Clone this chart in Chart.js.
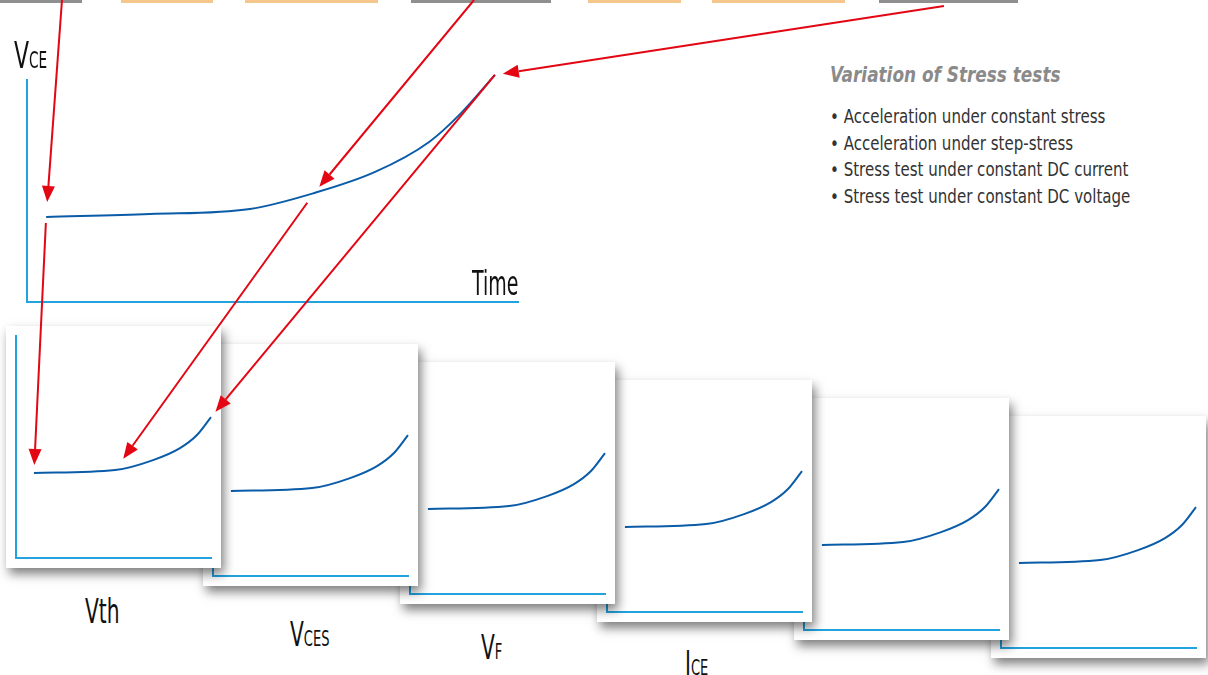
<!DOCTYPE html>
<html>
<head>
<meta charset="utf-8">
<title>Stress test drift</title>
<script src="https://cdn.jsdelivr.net/npm/chart.js@4.4.1/dist/chart.umd.min.js"></script>
<style>
  body {
    margin: 0;
    width: 1208px;
    height: 675px;
    position: relative;
    overflow: hidden;
    background: #fff;
    font-family: "DejaVu Sans Condensed", "DejaVu Sans", sans-serif;
  }
  .tab { position: absolute; top: 0; height: 3px; }
  .tab.gray { background: #8f8f8f; }
  .tab.orange { background: #f6c78d; }
  #mainChart { position: absolute; left: 0; top: 0; }
  .panel {
    position: absolute;
    width: 215px;
    height: 242px;
    background: #fff;
    box-shadow: 3px 6px 10px rgba(0, 0, 0, 0.5);
  }
  .panel canvas { position: absolute; left: 0; top: 0; }
  .label {
    position: absolute;
    color: #111;
    font-size: 34px;
    line-height: 1;
    white-space: nowrap;
    transform: scaleX(0.66);
    transform-origin: left top;
  }
  .label .sub { font-size: 22px; }
  #notes {
    position: absolute;
    left: 830px;
    top: 62px;
    color: #333;
    transform: scaleX(0.88);
    transform-origin: left top;
  }
  #notes h3 {
    margin: 0 0 16px 0;
    font-size: 22px;
    font-weight: bold;
    font-style: italic;
    color: #8a8a8a;
    transform: scaleX(0.97);
    transform-origin: left top;
  }
  #notes div { font-size: 19px; line-height: 26.5px; white-space: nowrap; }
  #arrows { position: absolute; left: 0; top: 0; z-index: 50; pointer-events: none; }
</style>
</head>
<body>

<div class="tab gray" style="left:0;width:82px"></div>
<div class="tab orange" style="left:121px;width:92px"></div>
<div class="tab orange" style="left:245px;width:133px"></div>
<div class="tab gray" style="left:411px;width:140px"></div>
<div class="tab orange" style="left:588px;width:93px"></div>
<div class="tab orange" style="left:712px;width:133px"></div>
<div class="tab gray" style="left:879px;width:139px"></div>

<canvas id="mainChart" width="540" height="320"></canvas>
<div class="label" style="left:14px;top:37px;font-size:37px">V<span class="sub" style="font-size:23px">CE</span></div>
<div class="label" style="left:472px;top:266px;transform:scaleX(0.62)">Time</div>

<div id="notes">
  <h3>Variation of Stress tests</h3>
  <div>• Acceleration under constant stress</div>
  <div>• Acceleration under step-stress</div>
  <div>• Stress test under constant DC current</div>
  <div>• Stress test under constant DC voltage</div>
</div>

<div id="panels"></div>
<canvas id="arrows" width="1208" height="675"></canvas>

<script>
// main V_CE curve over time (axis units 0..100)
const mainTime = [3.9, 25, 45.4, 58.5, 70.9, 81.9, 88.4, 95.3];
const mainVce = [38.3, 39.6, 41.9, 49.1, 58.6, 72.1, 85.1, 102.3];

// the same drift shape, repeated for each monitored parameter
const panelTime = [9.2, 50.8, 70.3, 84.1, 92.8, 100];
const panelValue = [38.3, 39.6, 44.1, 49.5, 55.4, 63.5];

const panelNames = ['Vth', 'V', 'V', 'I', '', ''];
const panelSubs = ['', 'CES', 'F', 'CE', '', ''];

const curveColor = '#0b5ca8';
const axisColor = '#22a2df';
const arrowColor = '#e30613';

function toPoints(xs, ys) {
    return xs.map((x, i) => ({ x: x, y: ys[i] }));
}

function axis(width) {
    return {
        type: 'linear',
        min: 0,
        max: 100,
        ticks: { display: false },
        grid: { display: false, drawTicks: false },
        border: { display: true, color: axisColor, width: width }
    };
}

function makeCurveChart(canvas, xs, ys, padding, axisWidth) {
    return new Chart(canvas.getContext('2d'), {
        type: 'line',
        data: {
            datasets: [{
                data: toPoints(xs, ys),
                borderColor: curveColor,
                borderWidth: 2,
                pointRadius: 0,
                cubicInterpolationMode: 'monotone',
                clip: false
            }]
        },
        options: {
            responsive: false,
            animation: false,
            layout: { padding: padding },
            plugins: { legend: { display: false }, tooltip: { enabled: false } },
            scales: { x: axis(axisWidth), y: axis(axisWidth) }
        }
    });
}

const mainChart = makeCurveChart(document.getElementById('mainChart'), mainTime, mainVce,
    { left: 27, top: 80, right: 22, bottom: 18 }, 2);

// stacked panels, first one on top
const panelCharts = [];
const panelsBox = document.getElementById('panels');
const labelShift = [[79, 268], [87, 273], [81, 268], [88, 266]];
for (let i = 0; i < panelNames.length; i++) {
    const left = 6 + 197 * i;
    const top = 326 + 18 * i;
    const div = document.createElement('div');
    div.className = 'panel';
    div.style.left = left + 'px';
    div.style.top = top + 'px';
    div.style.zIndex = 20 - i;
    const cv = document.createElement('canvas');
    cv.width = 215;
    cv.height = 242;
    div.appendChild(cv);
    panelsBox.appendChild(div);
    panelCharts.push(makeCurveChart(cv, panelTime, panelValue,
        { left: 10, top: 10, right: 10, bottom: 10 }, 2));

    if (panelNames[i]) {
        const lab = document.createElement('div');
        lab.className = 'label';
        lab.style.left = (left + labelShift[i][0]) + 'px';
        lab.style.top = (top + labelShift[i][1]) + 'px';
        lab.innerHTML = panelNames[i] + (panelSubs[i] ? '<span class="sub">' + panelSubs[i] + '</span>' : '');
        panelsBox.appendChild(lab);
    }
}

// page position of a curve point
function pointAt(chart, index) {
    const el = chart.getDatasetMeta(0).data[index];
    const r = chart.canvas.getBoundingClientRect();
    return [r.left + el.x, r.top + el.y];
}

// arrows: fixed start at the top edge, or from one curve point to another
const links = [
    { from: [62, 0], to: () => pointAt(mainChart, 0), gapEnd: 15 },
    { from: () => pointAt(mainChart, 0), to: () => pointAt(panelCharts[0], 0), gapStart: 6, gapEnd: 8 },
    { from: [474, 0], to: () => pointAt(mainChart, 3), gapEnd: 8 },
    { from: () => pointAt(mainChart, 3), to: () => pointAt(panelCharts[0], 1), gapStart: 12, gapEnd: 14 },
    { from: [944, 6], to: () => pointAt(mainChart, 7), gapEnd: 8 },
    { from: () => pointAt(mainChart, 7), to: () => pointAt(panelCharts[0], 5), gapStart: 0, gapEnd: 7 }
];

function drawArrows() {
    const ctx = document.getElementById('arrows').getContext('2d');
    ctx.strokeStyle = arrowColor;
    ctx.fillStyle = arrowColor;
    ctx.lineWidth = 2;
    links.forEach(link => {
        const s = typeof link.from === 'function' ? link.from() : link.from;
        const t = link.to();
        const dx = t[0] - s[0], dy = t[1] - s[1];
        const len = Math.hypot(dx, dy);
        const ux = dx / len, uy = dy / len;
        const g0 = link.gapStart || 0, g1 = link.gapEnd || 0;
        const sx = s[0] + ux * g0, sy = s[1] + uy * g0;
        const tx = t[0] - ux * g1, ty = t[1] - uy * g1;
        const head = 16, half = 6.5;
        const bx = tx - ux * head, by = ty - uy * head;
        ctx.beginPath();
        ctx.moveTo(sx, sy);
        ctx.lineTo(bx, by);
        ctx.stroke();
        ctx.beginPath();
        ctx.moveTo(tx, ty);
        ctx.lineTo(bx - uy * half, by + ux * half);
        ctx.lineTo(bx + uy * half, by - ux * half);
        ctx.closePath();
        ctx.fill();
    });
}

drawArrows();
</script>
</body>
</html>
